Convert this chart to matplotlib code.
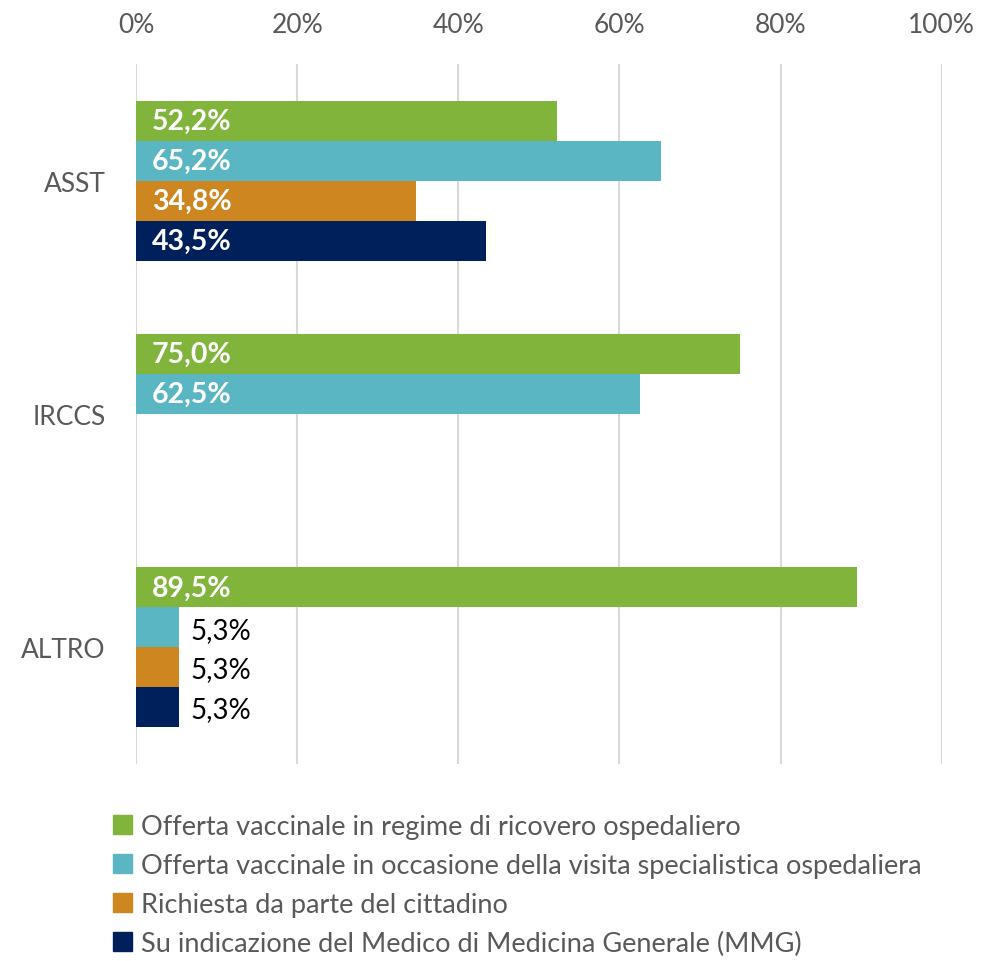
import matplotlib.pyplot as plt
import numpy as np
from matplotlib.patches import Patch

plt.rcParams['font.family'] = ['Lato', 'DejaVu Sans']

categories = ["ASST", "IRCCS", "ALTRO"]
series = ["Offerta vaccinale in regime di ricovero ospedaliero",
          "Offerta vaccinale in occasione della visita specialistica ospedaliera",
          "Richiesta da parte del cittadino",
          "Su indicazione del Medico di Medicina Generale (MMG)"]
ricovero = [52.2, 75.0, 89.5]
visita = [65.2, 62.5, 5.3]
cittadino = [34.8, 0, 5.3]
mmg = [43.5, 0, 5.3]
colors = ["#80B43A", "#5AB6C2", "#CE8620", "#00205C"]

values = [ricovero, visita, cittadino, mmg]

fig = plt.figure(figsize=(9.82, 9.62), dpi=100)
ax = fig.add_axes([0.1385, 0.205, 0.8205, 0.727])

h = 0.171
y = np.arange(len(categories))
for i, vals in enumerate(values):
    pos = y + (i - 1.5) * h
    ax.barh(pos, vals, height=h, color=colors[i], zorder=2)
    for p, v in zip(pos, vals):
        if v == 0:
            continue
        txt = f"{v:.1f}%".replace(".", ",")
        if v > 20:
            ax.text(2, p, txt, color="white", fontweight="bold", fontsize=20.5,
                    va="center", ha="left", zorder=3)
        else:
            ax.text(v + 1.5, p + 0.01, txt, color="black", fontsize=20,
                    va="center", ha="left", zorder=3)

ax.set_xlim(0, 100)
ax.set_ylim(2.5, -0.5)
ax.set_xticks(np.arange(0, 101, 20))
ax.set_xticklabels([f"{t}%" for t in range(0, 101, 20)])
ax.xaxis.tick_top()
ax.tick_params(axis="x", length=0, labelsize=19, labelcolor="#595959", pad=20)
ax.set_yticks(y)
ax.set_yticklabels(categories)
ax.tick_params(axis="y", length=0, labelsize=19, labelcolor="#595959", pad=22)
ax.grid(axis="x", color="#D9D9D9", linewidth=1.5, zorder=0)
for s in ax.spines.values():
    s.set_visible(False)

handles = [Patch(color=c, label=l) for c, l in zip(colors, series)]
fig.legend(handles=handles, loc="upper left", bbox_to_anchor=(0.115, 0.153),
           frameon=False, fontsize=19.5, labelcolor="#595959",
           handlelength=0.7, handleheight=0.7, handletextpad=0.35,
           labelspacing=0.52, borderaxespad=0, borderpad=0)

fig.savefig("out.png", dpi=100)
